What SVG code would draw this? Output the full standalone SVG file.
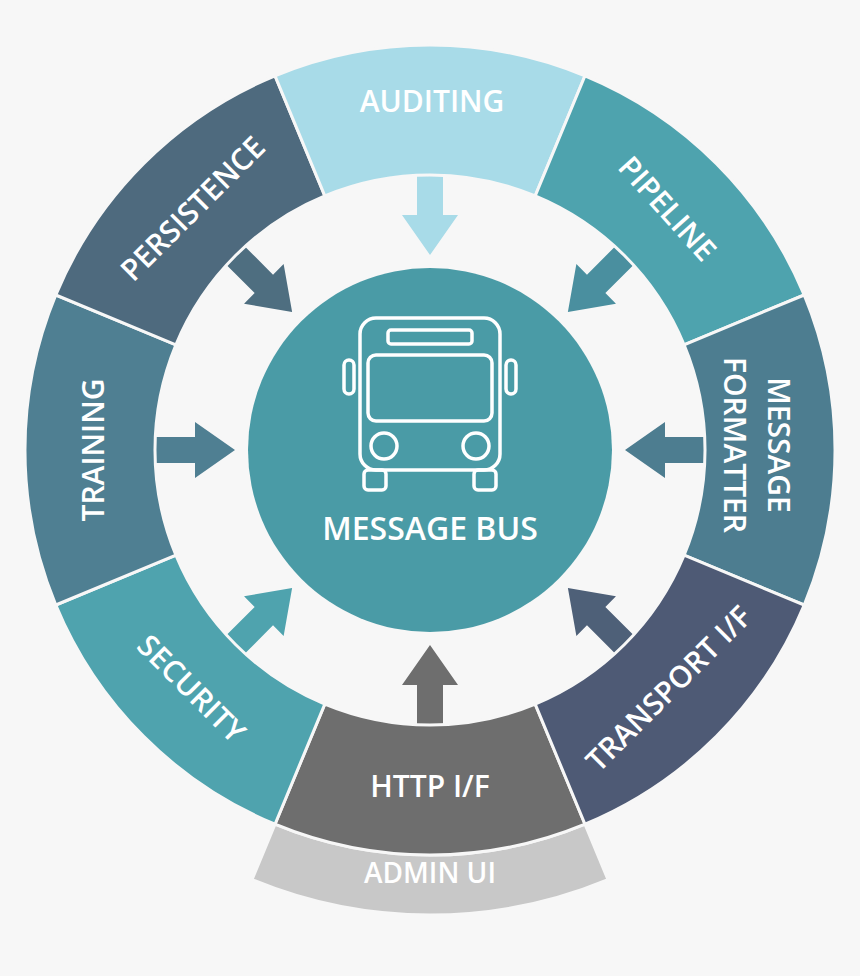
<svg xmlns="http://www.w3.org/2000/svg" width="860" height="976" viewBox="0 0 860 976">
<style>
.seg{stroke:#f7f7f7;stroke-width:3}
.lbl{font-family:"Open Sans","Liberation Sans",sans-serif;font-weight:600;font-size:30px;fill:#fff;text-anchor:middle;dominant-baseline:central}
.ic{fill:none;stroke:#fff;stroke-width:3.5}
</style>
<defs>
<path id="arr" d="M417 740 L417 685 L402 685 L430 645 L458 685 L443 685 L443 740 Z"/>
</defs>
<rect width="860" height="976" fill="#f7f7f7"/>
<g id="connectors">
<use href="#arr" fill="#6e6e6e"/>
<use href="#arr" fill="#4fa3ae" transform="rotate(45 430 450)"/>
<use href="#arr" fill="#4f7f92" transform="rotate(90 430 450)"/>
<use href="#arr" fill="#4e6e80" transform="rotate(135 430 450)"/>
<use href="#arr" fill="#a8dbe8" transform="rotate(180 430 450)"/>
<use href="#arr" fill="#4a8f9f" transform="rotate(225 430 450)"/>
<use href="#arr" fill="#4d7d90" transform="rotate(270 430 450)"/>
<use href="#arr" fill="#4e6078" transform="rotate(315 430 450)"/>
</g>
<g id="admin"><path class="seg" fill="#c8c8c8" d="M275 824.2 A405 405 0 0 0 585 824.2 L608 879.6 A465 465 0 0 1 252 879.6 Z"/><text class="lbl" x="430" y="872" font-size="28" style="font-size:28px">ADMIN UI</text></g>
<g id="http"><path class="seg" fill="#6e6e6e" d="M324.8 704.1 A275 275 0 0 0 535.2 704.1 L585 824.2 A405 405 0 0 1 275 824.2 Z"/><text class="lbl" x="430" y="785">HTTP I/F</text></g>
<g id="security"><path class="seg" fill="#4fa3ae" d="M175.9 555.2 A275 275 0 0 0 324.8 704.1 L275 824.2 A405 405 0 0 1 55.8 605 Z"/><text class="lbl" transform="translate(192 688) rotate(45)">SECURITY</text></g>
<g id="training"><path class="seg" fill="#4f7f92" d="M175.9 344.8 A275 275 0 0 0 175.9 555.2 L55.8 605 A405 405 0 0 1 55.8 295 Z"/><text class="lbl" transform="translate(92 450) rotate(-90)">TRAINING</text></g>
<g id="persistence"><path class="seg" fill="#4e6a7e" d="M324.8 195.9 A275 275 0 0 0 175.9 344.8 L55.8 295 A405 405 0 0 1 275 75.8 Z"/><text class="lbl" transform="translate(192 208) rotate(-45)">PERSISTENCE</text></g>
<g id="auditing"><path class="seg" fill="#a8dbe8" d="M535.2 195.9 A275 275 0 0 0 324.8 195.9 L275 75.8 A405 405 0 0 1 585 75.8 Z"/><text class="lbl" x="432" y="100">AUDITING</text></g>
<g id="pipeline"><path class="seg" fill="#4ea3ae" d="M684.1 344.8 A275 275 0 0 0 535.2 195.9 L585 75.8 A405 405 0 0 1 804.2 295 Z"/><text class="lbl" transform="translate(668 208) rotate(48)">PIPELINE</text></g>
<g id="formatter"><path class="seg" fill="#4d7d90" d="M684.1 555.2 A275 275 0 0 0 684.1 344.8 L804.2 295 A405 405 0 0 1 804.2 605 Z"/><text class="lbl" transform="translate(758 445) rotate(90)"><tspan x="0" y="-22">MESSAGE</tspan><tspan x="0" y="22">FORMATTER</tspan></text></g>
<g id="transport"><path class="seg" fill="#4e5a75" d="M535.2 704.1 A275 275 0 0 0 684.1 555.2 L804.2 605 A405 405 0 0 1 585 824.2 Z"/><text class="lbl" transform="translate(668 688) rotate(-45)">TRANSPORT I/F</text></g>
<g id="bus">
<circle cx="430" cy="450" r="182" fill="#4a9ba6"/>
<rect class="ic" x="360" y="318" width="140" height="152" rx="16"/>
<rect class="ic" x="388" y="330" width="84" height="14" rx="3"/>
<rect class="ic" x="368" y="355" width="124" height="66" rx="8"/>
<circle class="ic" cx="384" cy="446" r="13"/>
<circle class="ic" cx="476" cy="446" r="13"/>
<rect class="ic" x="344" y="360" width="10" height="34" rx="5"/>
<rect class="ic" x="506" y="360" width="10" height="34" rx="5"/>
<rect class="ic" x="364" y="470" width="22" height="20" rx="4"/>
<rect class="ic" x="474" y="470" width="22" height="20" rx="4"/>
<text class="lbl" x="430" y="527" style="font-size:32px">MESSAGE BUS</text>
</g>
</svg>
